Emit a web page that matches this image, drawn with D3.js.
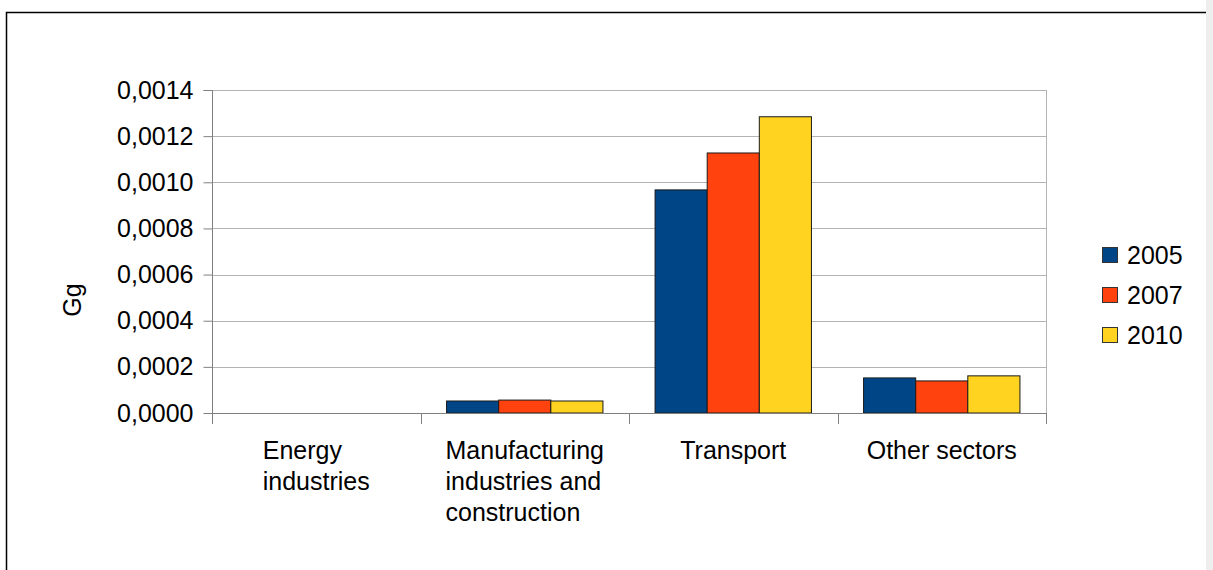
<!DOCTYPE html>
<html><head><meta charset="utf-8">
<script src="https://cdn.jsdelivr.net/npm/d3@7"></script>
<style>body{margin:0;background:#fff}svg{display:block}text{font-family:"Liberation Sans",Arial,sans-serif}</style>
</head><body>
<svg id="c" width="1213" height="570"></svg>
<script>
const categories = [["Energy","industries"],["Manufacturing","industries and","construction"],["Transport"],["Other sectors"]];
const seriesNames = ["2005","2007","2010"];
const s2005 = [0, 0.000052, 0.000967, 0.000152];
const s2007 = [0, 0.000056, 0.001127, 0.000139];
const s2010 = [0, 0.000052, 0.001284, 0.000161];
const yTicks = [0,0.0002,0.0004,0.0006,0.0008,0.0010,0.0012,0.0014];
const colors = ["#004586","#ff420e","#ffd320"];
const series = [s2005,s2007,s2010];
const FS = 25;

const svg = d3.select("#c");
// frame
svg.append("rect").attr("x",1206).attr("y",0).attr("width",7).attr("height",570).attr("fill","#eeeeee");
svg.append("path").attr("d","M6.5,570 V12.5 H1206").attr("fill","none").attr("stroke","#000").attr("stroke-width",1.5);

const L=212,R=1046,T=90,B=413;
const x = d3.scaleBand().domain(d3.range(categories.length)).range([L,R]);
const y = d3.scaleLinear().domain([0,0.0014]).range([B,T]);

// gridlines
svg.append("g").selectAll("line").data(yTicks.slice(1)).join("line")
  .attr("x1",L).attr("x2",R).attr("y1",d=>Math.round(y(d))+0.5).attr("y2",d=>Math.round(y(d))+0.5)
  .attr("stroke","#b3b3b3");
svg.append("line").attr("x1",R+0.5).attr("x2",R+0.5).attr("y1",T).attr("y2",B).attr("stroke","#b3b3b3");

// bars
const groupW = x.bandwidth()*0.75;
const barW = groupW/3;
series.forEach((s,si)=>{
  svg.append("g").selectAll("rect").data(s).join("rect")
    .attr("x",(d,i)=>x(i)+(x.bandwidth()-groupW)/2+si*barW)
    .attr("y",d=>y(d)).attr("width",barW).attr("height",d=>B-y(d))
    .attr("fill",colors[si]).attr("stroke",d=>d>0?"#1a1a1a":"none").attr("stroke-width",1);
});

// y axis
const ya = svg.append("g").attr("transform",`translate(${L+0.5},0)`)
  .call(d3.axisLeft(y).tickValues(yTicks).tickSize(9).tickPadding(10).tickFormat(d=>d3.format(".4f")(d).replace(".",",")));
ya.attr("font-size",FS).attr("font-family","Liberation Sans, Arial, sans-serif");
ya.select(".domain").attr("stroke","#808080").attr("d","M-9,"+(T+0.5)+"H0V"+(B+0.5));
ya.selectAll(".tick line").attr("stroke","#808080");
ya.selectAll(".tick text").attr("fill","#000");

// x axis
svg.append("line").attr("x1",L).attr("x2",R+1).attr("y1",B+0.5).attr("y2",B+0.5).attr("stroke","#808080");
const bounds = d3.range(categories.length+1).map(i=>i<categories.length?x(i):R);
svg.append("g").selectAll("line").data(bounds).join("line")
  .attr("x1",d=>Math.round(d)+0.5).attr("x2",d=>Math.round(d)+0.5).attr("y1",B).attr("y2",B+11).attr("stroke","#808080");

const xl = svg.append("g");
categories.forEach((lines,i)=>{
  const cx = x(i)+x.bandwidth()/2;
  const t = xl.append("text").attr("font-size",FS).attr("fill","#000").attr("y",459);
  lines.forEach((ln,j)=>{
    t.append("tspan").attr("x",cx).attr("dy",j?31:0).text(ln);
  });
  const w = d3.max(t.selectAll("tspan").nodes(),n=>n.getComputedTextLength());
  t.selectAll("tspan").attr("x",cx-w/2);
});

// y title
svg.append("text").attr("transform","translate(81,300) rotate(-90)").attr("text-anchor","middle")
  .attr("font-size",FS).attr("fill","#000").text("Gg");

// legend
const lg = svg.append("g").selectAll("g").data(seriesNames).join("g")
  .attr("transform",(d,i)=>`translate(1102,${247+i*40})`);
lg.append("rect").attr("width",15).attr("height",15).attr("x",0.5).attr("y",0.5)
  .attr("fill",(d,i)=>colors[i]).attr("stroke","#333");
lg.append("text").attr("x",25).attr("y",17).attr("font-size",FS).attr("fill","#000").text(d=>d);
</script>
</body></html>
